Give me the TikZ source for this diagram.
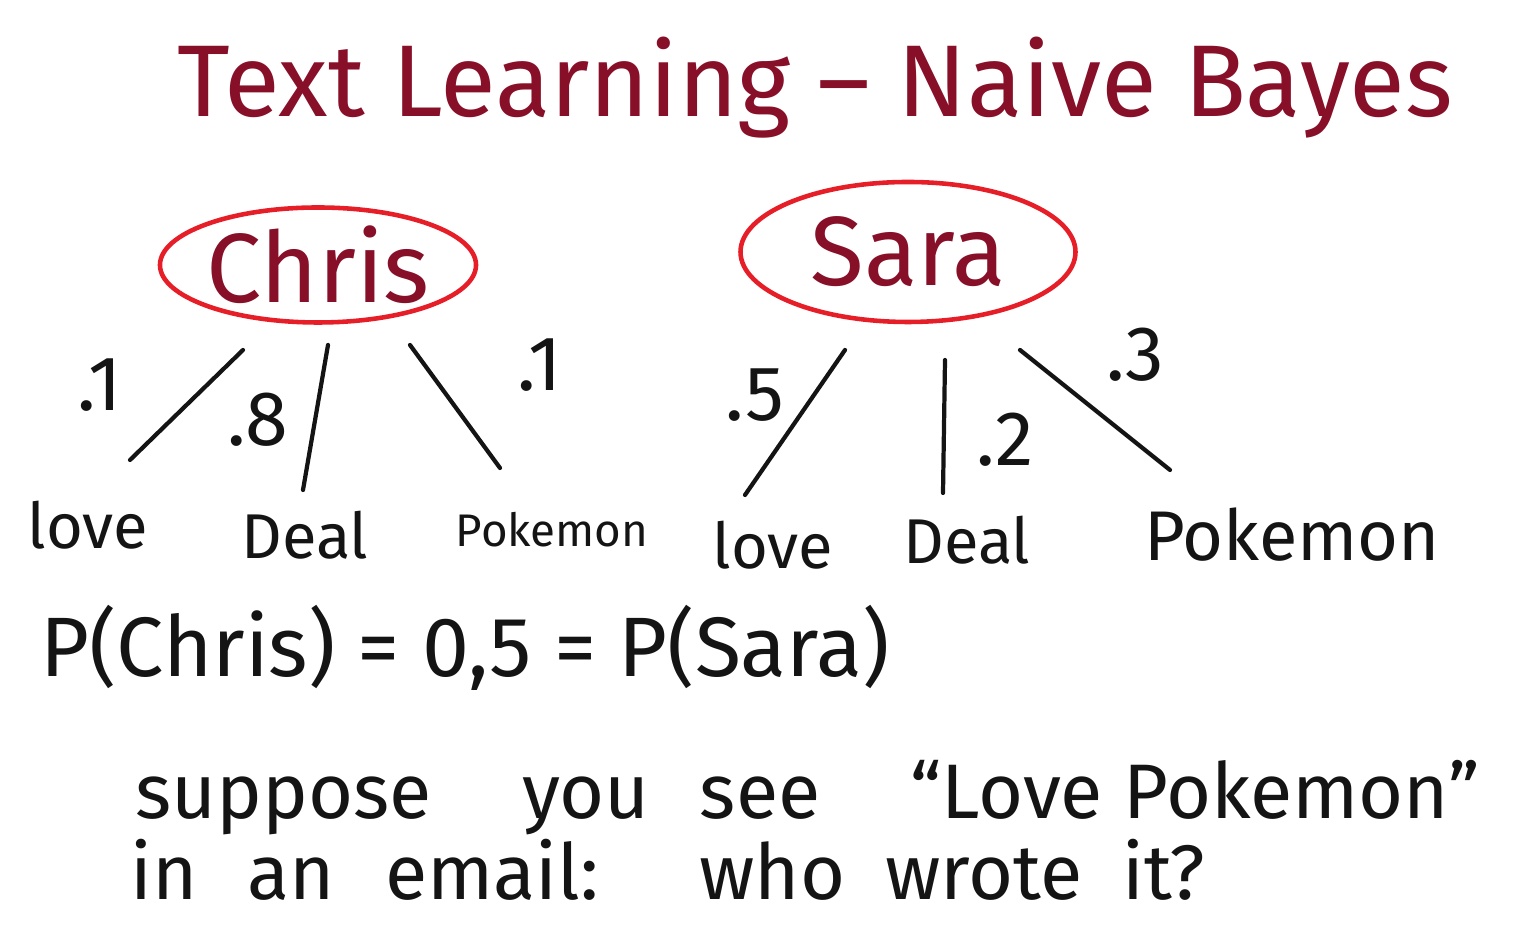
\documentclass[tikz,border=0pt]{standalone}
\usepackage{fontspec}
\setmainfont{Fira Sans}
\usepackage{tikz}
\usetikzlibrary{positioning,shapes.geometric,calc}
\definecolor{inkclr}{RGB}{20,20,20}
\definecolor{titleclr}{RGB}{135,15,40}
\definecolor{ringclr}{RGB}{230,30,40}
\tikzset{
    title/.style={text=titleclr,font=\fontsize{29}{34}\selectfont,inner sep=0pt},
    author/.style={ellipse,draw=ringclr,line width=1.3pt,text=titleclr,
                   font=\fontsize{28}{32}\selectfont,inner sep=0pt},
    word/.style={text=inkclr,font=\fontsize{18}{22}\selectfont,inner sep=0pt},
    prob/.style={text=inkclr,font=\fontsize{22}{26}\selectfont,inner sep=0pt},
    note/.style={text=inkclr,font=\fontsize{22}{26}\selectfont,inner sep=0pt,anchor=west},
    branch/.style={inkclr,line width=1.2pt,line cap=round},
}
\begin{document}
\begin{tikzpicture}
\useasboundingbox (0,0) rectangle (15.24,9.33);

\node[title] (ttl) at (8.15,8.45) {Text Learning -- Naive Bayes};

\node[author,minimum width=3.1cm,minimum height=1.15cm] (chris) at (3.18,6.68) {Chris};
\node[author,minimum width=3.35cm,minimum height=1.4cm] (sara) at (9.08,6.81) {Sara};

% Chris
\node[word] (cLove) at (0.88,4.08) {love};
\node[word] (cDeal) at (3.05,3.98) {Deal};
\node[word,font=\fontsize{13}{17}\selectfont] (cPoke) at (5.52,4.03) {Pokemon};
\coordinate (c1t) at (2.43,5.83); \coordinate (c1b) at (1.30,4.73);
\coordinate (c2t) at (3.28,5.88); \coordinate (c2b) at (3.03,4.43);
\coordinate (c3t) at (4.10,5.88); \coordinate (c3b) at (5.00,4.65);
\draw[branch] (c1t) -- (c1b);
\draw[branch] (c2t) -- (c2b);
\draw[branch] (c3t) -- (c3b);
\node[prob] (pc1) at (1.00,5.48) {.1};
\node[prob] (pc2) at (2.58,5.13) {.8};
\node[prob] (pc3) at (5.40,5.68) {.1};

% Sara
\node[word] (sLove) at (7.73,3.88) {love};
\node[word] (sDeal) at (9.67,3.93) {Deal};
\node[word,font=\fontsize{20}{24}\selectfont] (sPoke) at (12.92,3.98) {Pokemon};
\coordinate (s1t) at (8.45,5.83); \coordinate (s1b) at (7.45,4.38);
\coordinate (s2t) at (9.45,5.73); \coordinate (s2b) at (9.43,4.40);
\coordinate (s3t) at (10.20,5.83); \coordinate (s3b) at (11.70,4.63);
\draw[branch] (s1t) -- (s1b);
\draw[branch] (s2t) -- (s2b);
\draw[branch] (s3t) -- (s3b);
\node[prob] (ps1) at (7.55,5.38) {.5};
\node[prob] (ps2) at (10.05,4.93) {.2};
\node[prob] (ps3) at (11.35,5.78) {.3};

\node[word,font=\fontsize{24}{28}\selectfont] (prior) at (4.65,2.85) {P(Chris) = 0,5 = P(Sara)};

\node[note] (ask1) at (1.35,1.35) {suppose\hspace{0.9cm}you\hspace{0.5cm}see\hspace{0.9cm}``Love Pokemon''};
\node[note] (ask2) at (1.30,0.63) {in\hspace{0.5cm}an\hspace{0.5cm}email:\hspace{1.0cm}who\hspace{0.4cm}wrote\hspace{0.4cm}it?};
\end{tikzpicture}
\end{document}
